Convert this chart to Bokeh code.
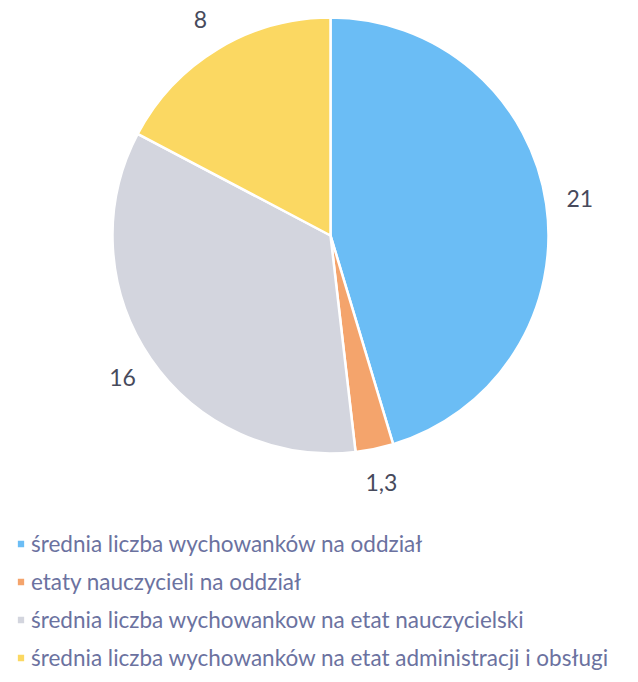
import math
from bokeh.plotting import figure
from bokeh.models import ColumnDataSource, Legend, LegendItem, Range1d
from bokeh.core.properties import value
from bokeh.embed import file_html
from bokeh.resources import INLINE

categories = [
    "średnia liczba wychowanków na oddział",
    "etaty nauczycieli na oddział",
    "średnia liczba wychowankow na etat nauczycielski",
    "średnia liczba wychowanków na etat administracji i obsługi",
]
values = [21, 1.3, 16, 8]
value_labels = ["21", "1,3", "16", "8"]
colors = ["#6bbdf5", "#f4a46c", "#d3d5de", "#fbd862"]

W, H = 630, 674
cx, cy = 330, H - 235
R = 218
RL = 252

total = sum(values)
starts, ends, lx, ly = [], [], [], []
cum = 0.0
for v in values:
    a0 = math.pi / 2 - cum / total * 2 * math.pi
    cum += v
    a1 = math.pi / 2 - cum / total * 2 * math.pi
    starts.append(a0)
    ends.append(a1)
    mid = (a0 + a1) / 2
    lx.append(cx + RL * math.cos(mid))
    ly.append(cy + RL * math.sin(mid))

src = ColumnDataSource(dict(cat=categories, val=values, lab=value_labels,
                            color=colors, start=starts, end=ends, lx=lx, ly=ly))

p = figure(width=W, height=H, output_backend="svg", toolbar_location=None,
           x_range=Range1d(0, W), y_range=Range1d(0, H), min_border=0)
p.axis.visible = False
p.grid.visible = False
p.outline_line_color = None
p.background_fill_color = "white"
p.border_fill_color = "white"

wedges = p.wedge(x=cx, y=cy, radius=R, start_angle="start", end_angle="end",
                 direction="clock", fill_color="color", line_color="white",
                 line_width=2.5, source=src)

p.text(x="lx", y="ly", text="lab", source=src, text_align="center",
       text_baseline="middle", text_font=value("Lato"), text_font_size="23px",
       text_color="#474a5c")

items = [LegendItem(label=c, renderers=[wedges], index=i) for i, c in enumerate(categories)]
legend = Legend(items=items, location=(15, 3), orientation="vertical",
                glyph_width=11, glyph_height=11, label_standoff=5,
                label_text_font="Lato", label_text_font_size="22.5px",
                label_text_color="#6b72a0", label_height=20, spacing=11,
                padding=0, margin=0, border_line_color=None,
                background_fill_alpha=0)
p.add_layout(legend, "center")

open("out.html", "w").write(file_html(p, INLINE))
